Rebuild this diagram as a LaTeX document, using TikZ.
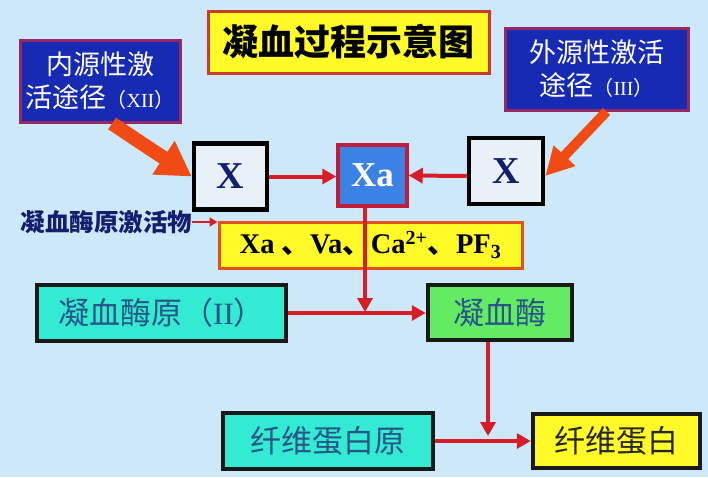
\documentclass[tikz,border=0pt]{standalone}
\usepackage{fontspec}
\setmainfont{Liberation Serif}
\newfontfamily\cjk{Noto Sans CJK SC}
\usetikzlibrary{arrows.meta}
\definecolor{bg}{RGB}{205,232,249}
\definecolor{ttlfill}{RGB}{255,250,40}
\definecolor{ttlborder}{RGB}{200,60,40}
\definecolor{bluefill}{RGB}{22,42,180}
\definecolor{blueborder}{RGB}{150,40,100}
\definecolor{xafill}{RGB}{60,130,228}
\definecolor{xaborder}{RGB}{190,30,60}
\definecolor{xfill}{RGB}{232,240,248}
\definecolor{navy}{RGB}{20,30,110}
\definecolor{redline}{RGB}{215,30,40}
\definecolor{bigorange}{RGB}{240,75,20}
\definecolor{cyanfill}{RGB}{50,235,210}
\definecolor{greenfill}{RGB}{100,235,100}
\definecolor{tealtext}{RGB}{40,85,135}
\definecolor{facborder}{RGB}{225,80,30}
\tikzset{
  box/.style={rectangle, anchor=center, inner sep=0pt, align=center},
  ttlbox/.style={box, fill=ttlfill, draw=ttlborder, line width=3pt},
  bluebox/.style={box, fill=bluefill, draw=blueborder, line width=3pt, text=white,
     font=\cjk\fontsize{27}{33}\selectfont},
  xbox/.style={box, fill=xfill, draw=black, line width=4.5pt, text=navy,
     font=\fontsize{38}{40}\selectfont\bfseries},
  xabox/.style={box, fill=xafill, draw=xaborder, line width=3.5pt, text=white,
     font=\fontsize{35}{38}\selectfont\bfseries},
  stepcyan/.style={box, fill=cyanfill, draw=black!90, line width=4.5pt, text=tealtext,
     font=\cjk\fontsize{31}{34}\selectfont},
  stepgreen/.style={stepcyan, fill=greenfill},
  stepyellow/.style={stepcyan, fill=ttlfill, text=black!85},
  facbox/.style={box, fill=ttlfill, draw=facborder, line width=3pt, text=black,
     font=\fontsize{28.5}{30}\selectfont\bfseries},
  redarrow/.style={draw=redline, line width=4pt, -{Triangle[length=14pt,width=15pt]}},
  bigarrowL/.style={draw=bigorange, line width=14pt, -{Triangle[length=34pt,width=38pt]}},
  bigarrowR/.style={draw=bigorange, line width=10pt, -{Triangle[length=28pt,width=28pt]}},
}
\begin{document}
\begin{tikzpicture}[x=1pt,y=-1pt]
\useasboundingbox (0,0) rectangle (708,477);
\fill[bg] (0,0) rectangle (708,477);

\node[ttlbox, minimum width=281pt, minimum height=62pt,
      font=\cjk\bfseries\fontsize{36}{38}\selectfont] (title) at (348.5,42) {凝血过程示意图};

\node[bluebox, minimum width=160pt, minimum height=82pt] (lbox) at (100,81)
  {内源性激\\活途径{\fontsize{20}{20}\selectfont（\rmfamily XII\cjk）}};
\node[bluebox, minimum width=183pt, minimum height=82pt] (rbox) at (596.5,69)
  {外源性激活\\途径{\fontsize{20}{20}\selectfont（\rmfamily III\cjk）}};

\node[xbox, minimum width=73pt, minimum height=66pt] (x1) at (230.5,176.5) {X};
\node[xabox, minimum width=69pt, minimum height=61pt] (xa) at (372.5,175.5) {Xa};
\node[xbox, minimum width=74pt, minimum height=66pt] (x2) at (506,171) {X};

\node[facbox, minimum width=303pt, minimum height=46pt] (fac) at (370.5,245)
  {Xa {\cjk 、}Va{\cjk 、}Ca\textsuperscript{2+}{\cjk 、}PF\textsubscript{3}};

\node[anchor=center, inner sep=0pt, text=navy, font=\cjk\bfseries\fontsize{24.5}{26}\selectfont]
  (lab) at (106.5,222) {凝血酶原激活物};

\node[stepcyan, minimum width=249pt, minimum height=56pt] (pro) at (161.5,313)
  {凝血酶原（\rmfamily II\cjk）};
\node[stepgreen, minimum width=144pt, minimum height=55pt] (thr) at (500,312.5) {凝血酶};
\node[stepcyan, minimum width=210pt, minimum height=56pt] (fib) at (328,441) {纤维蛋白原};
\node[stepyellow, minimum width=167pt, minimum height=54pt] (fibr) at (616.5,441) {纤维蛋白};

\coordinate (j1) at (365,312);
\coordinate (j2) at (488,436);

% big orange arrows
\draw[bigarrowL] ([xshift=12pt]lbox.south) -- (x1.west);
\draw[bigarrowR] ([xshift=10pt]rbox.south) -- ([yshift=-5pt]x2.east);

% red connectors
\draw[redarrow] (x1.east) -- (x1.east -| xa.west);
\draw[redarrow] ([yshift=-5pt]x2.west) -- (xa.east);
\draw[redarrow] ([xshift=-7.5pt]xa.south) -- (j1);
\draw[redarrow] (pro.east) -- (pro.east -| thr.west);
\draw[redarrow] ([xshift=-12pt]thr.south) -- (j2);
\draw[redarrow] (fib.east) -- (fib.east -| fibr.west);
\draw[draw=redline, line width=2.5pt, -{Triangle[length=8pt,width=9pt]}] (lab.east) -- (lab.east -| fac.west);
\end{tikzpicture}
\end{document}
